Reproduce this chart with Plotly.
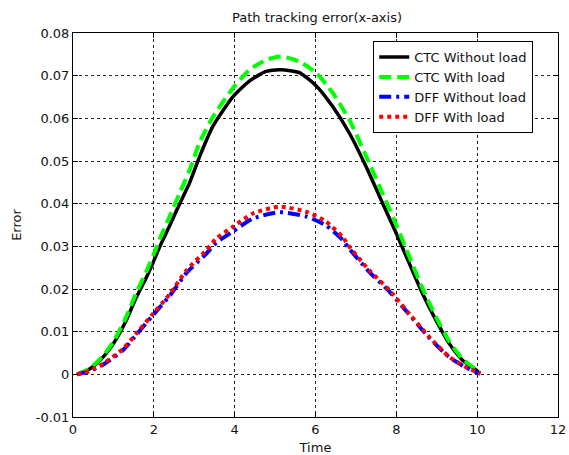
import plotly.graph_objects as go

# CTC without load (black solid)
t_ctc = [0.1, 0.42, 0.75, 1.0, 1.28, 1.57, 1.82, 2.0, 2.15, 2.4, 2.64, 2.89, 3.14, 3.46, 3.96,
         4.37, 4.78, 5.15, 5.6, 6.02, 6.43, 6.84, 7.25, 7.66, 8.0, 8.32, 8.65, 8.98, 9.31, 9.64, 9.99, 10.05]
v_ctc_nl = [0.0, 0.0013, 0.0041, 0.0072, 0.0119, 0.0181, 0.0228, 0.0266, 0.0300, 0.0350, 0.0400, 0.0450,
            0.0512, 0.0581, 0.0651, 0.0688, 0.0710, 0.0714, 0.0707, 0.0676, 0.0627, 0.0565, 0.0487, 0.0401,
            0.0330, 0.0260, 0.0189, 0.0127, 0.0072, 0.0033, 0.0009, 0.0003]

# CTC with load (green dashed)
v_ctc_wl = [0.0, 0.0014, 0.0044, 0.0077, 0.0127, 0.0192, 0.0242, 0.0282, 0.0318, 0.0372, 0.0425, 0.0480,
            0.0545, 0.0603, 0.0671, 0.0714, 0.0737, 0.0745, 0.0733, 0.0706, 0.0659, 0.0596, 0.0512, 0.0424,
            0.0350, 0.0276, 0.0201, 0.0135, 0.0077, 0.0036, 0.0010, 0.0004]

# DFF (shared time axis)
t_dff = [0.1, 0.4, 0.75, 1.24, 1.57, 1.98, 2.4, 2.81, 3.3, 3.55, 3.96, 4.45, 5.11, 5.77, 6.26, 6.67,
         6.84, 7.33, 7.83, 8.32, 8.81, 9.31, 9.72, 10.0, 10.08]
# DFF with load (red dotted)
v_dff_wl = [0.0, 0.0008, 0.0025, 0.0060, 0.0096, 0.0142, 0.0189, 0.0244, 0.0291, 0.0319, 0.0346, 0.0377,
            0.0393, 0.0381, 0.0358, 0.0322, 0.0299, 0.0244, 0.0197, 0.0142, 0.0088, 0.0041, 0.0017, 0.0005, 0.0002]
# DFF without load (blue dash-dot)
v_dff_nl = [0.0, 0.0007, 0.0023, 0.0057, 0.0093, 0.0139, 0.0185, 0.0238, 0.0283, 0.0309, 0.0335, 0.0365,
            0.0380, 0.0370, 0.0349, 0.0315, 0.0294, 0.0240, 0.0194, 0.0140, 0.0086, 0.0040, 0.0016, 0.0004, 0.0002]

x_ticks = [0, 2, 4, 6, 8, 10, 12]
y_ticks = [-0.01, 0, 0.01, 0.02, 0.03, 0.04, 0.05, 0.06, 0.07, 0.08]
y_ticktext = ["-0.01", "0", "0.01", "0.02", "0.03", "0.04", "0.05", "0.06", "0.07", "0.08"]

FONT = "DejaVu Sans, sans-serif"
FS = 13
TXT = "#111111"

fig = go.Figure()
fig.add_trace(go.Scatter(x=t_ctc, y=v_ctc_nl, mode="lines", name="CTC Without load",
                         line=dict(color="black", width=3.5, dash="solid", shape="spline", smoothing=0.6)))
fig.add_trace(go.Scatter(x=t_ctc, y=v_ctc_wl, mode="lines", name="CTC With load",
                         line=dict(color="#00ff00", width=4, dash="12px,6px", shape="spline", smoothing=0.6)))
fig.add_trace(go.Scatter(x=t_dff, y=v_dff_nl, mode="lines", name="DFF Without load",
                         line=dict(color="#0000ff", width=4, dash="12px,5px,3px,5px", shape="spline", smoothing=0.6)))
fig.add_trace(go.Scatter(x=t_dff, y=v_dff_wl, mode="lines", name="DFF With load",
                         line=dict(color="#ff0000", width=4, dash="4px,4px", shape="spline", smoothing=0.6)))

axis_common = dict(
    showline=True, linecolor="black", linewidth=1, mirror="ticks",
    ticks="inside", ticklen=5, tickcolor="black",
    showgrid=True, gridcolor="#222222", gridwidth=1, griddash="3px,3px",
    zeroline=False, tickfont=dict(family=FONT, size=FS, color=TXT),
)

fig.update_xaxes(range=[0, 12], tickvals=x_ticks, ticktext=[str(v) for v in x_ticks],
                 title=dict(text="Time", font=dict(family=FONT, size=FS, color=TXT), standoff=8),
                 **axis_common)
fig.update_yaxes(range=[-0.01, 0.08], tickvals=y_ticks, ticktext=y_ticktext,
                 title=dict(text="Error", font=dict(family=FONT, size=FS, color=TXT), standoff=11),
                 **axis_common)

fig.update_layout(
    width=569, height=455,
    margin=dict(l=73, r=11, t=33, b=38, autoexpand=False),
    paper_bgcolor="white", plot_bgcolor="white",
    font=dict(family=FONT, size=FS, color=TXT),
    title=dict(text="Path tracking error(x-axis)", x=317 / 569, xanchor="center", xref="container",
               y=1 - 17 / 455, yanchor="middle", yref="container",
               font=dict(family=FONT, size=FS, color=TXT)),
    legend=dict(x=0.619, y=0.979, xanchor="left", yanchor="top",
                bgcolor="white", bordercolor="black", borderwidth=1,
                font=dict(family=FONT, size=FS, color=TXT),
                tracegroupgap=0),
    showlegend=True,
)

# remove the default page margin so the figure sits at the window origin
fig.write_html("out.html",
               config={"displayModeBar": False},
               post_script="document.body.style.margin='0px';document.body.style.overflow='hidden';")
